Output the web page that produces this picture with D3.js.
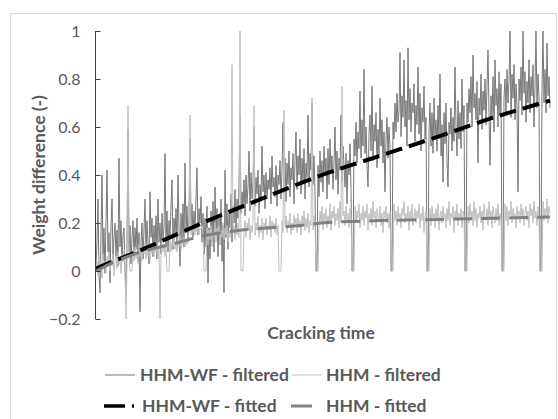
<!DOCTYPE html>
<html>
<head>
<meta charset="utf-8">
<script src="https://cdn.jsdelivr.net/npm/d3@7"></script>
<style>
  body { margin: 0; background: #fff; }
  svg { display: block; }
  .tick text { font-family: Lato, "Open Sans", sans-serif; font-size: 16px; fill: #595959; }
  .ttl { font-family: Lato, "Open Sans", sans-serif; font-weight: bold; fill: #595959; }
</style>
</head>
<body>
<div id="chart"></div>
<script>
// weight difference over cracking time, one sample per step
const hhmWfFiltered = [
  0.02, 0.12, 0.30, -0.02, -0.09, 0.15, 0.40, 0.05, 0.18, -0.01,
  0.20, 0.42, 0.08, 0.16, -0.05, 0.19, 0.30, 0.03, 0.14, 0.20,
  0.06, 0.17, 0.02, 0.47, 0.10, 0.21, 0.04, 0.15, 0.18, 0.00,
  -0.10, 0.12, 0.59, 0.08, 0.19, 0.03, 0.14, 0.21, 0.06, 0.18,
  0.09, 0.22, 0.04, 0.16, -0.17, 0.12, 0.20, 0.05, 0.17, 0.30,
  0.08, 0.21, 0.11, 0.03, 0.33, 0.14, 0.22, 0.06, 0.19, 0.10,
  0.23, 0.05, 0.30, 0.12, 0.20, 0.07, 0.24, 0.13, 0.18, 0.49,
  0.10, 0.25, 0.08, 0.21, 0.14, 0.27, 0.38, 0.09, 0.22, 0.15,
  0.26, 0.11, 0.40, 0.18, 0.02, 0.24, 0.13, 0.28, 0.10, 0.45,
  0.16, 0.27, 0.12, 0.23, 0.55, 0.19, 0.28, 0.14, 0.25, 0.17,
  0.30, 0.43, 0.15, 0.26, 0.20, 0.31, 0.12, 0.24, 0.07, 0.22,
  0.10, 0.27, -0.05, 0.18, 0.05, 0.25, 0.12, 0.29, 0.08, 0.35,
  0.15, 0.26, 0.06, 0.22, 0.11, 0.30, 0.04, 0.19, -0.09, 0.42,
  0.14, 0.28, 0.09, 0.24, 0.18, 0.32, 0.12, 0.27, 0.20, 0.34,
  0.16, 0.30, 0.22, 0.36, 0.65, 0.24, 0.33, 0.26, 0.38, 0.23,
  0.40, 0.28, 0.35, 0.50, 0.25, 0.41, 0.30, 0.37, 0.60, 0.27,
  0.39, 0.32, 0.42, 0.24, 0.36, 0.29, 0.52, 0.33, 0.40, 0.26,
  0.41, 0.30, 0.38, 0.34, 0.43, 0.28, 0.48, 0.35, 0.39, 0.31,
  0.44, 0.27, 0.40, 0.36, 0.46, 0.30, 0.42, 0.62, 0.33, 0.47,
  0.29, 0.45, 0.36, 0.50, 0.31, 0.43, 0.38, 0.49, 0.28, 0.46,
  0.58, 0.34, 0.48, 0.40, 0.55, 0.32, 0.47, 0.37, 0.51, 0.30,
  0.45, 0.39, 0.65, 0.35, 0.49, 0.42, 0.70, 0.36, 0.48, 0.33,
  0.00, 0.00, 0.44, 0.31, 0.50, 0.37, 0.46, 0.33, 0.52, 0.40,
  0.47, 0.30, 0.51, 0.36, 0.55, 0.41, 0.48, 0.34, 0.45, 0.60,
  0.38, 0.50, 0.32, 0.47, 0.42, 0.65, 0.37, 0.52, 0.44, 0.35,
  0.49, 0.28, 0.46, 0.40, 0.53, 0.34, 0.00, 0.00, 0.55, 0.48,
  0.62, 0.45, 0.58, 0.51, 0.75, 0.47, 0.63, 0.52, 0.84, 0.49,
  0.60, 0.44, 0.35, 0.57, 0.65, 0.50, 0.77, 0.46, 0.61, 0.54,
  0.66, 0.43, 0.59, 0.48, 0.72, 0.52, 0.63, 0.45, 0.58, 0.33,
  0.55, 0.64, 0.47, 0.60, 0.52, 0.00, 0.00, 0.62, 0.55, 0.70,
  0.58, 0.74, 0.62, 0.67, 0.91, 0.56, 0.73, 0.64, 0.88, 0.60,
  0.71, 0.52, 0.93, 0.63, 0.76, 0.58, 0.70, 0.66, 0.78, 0.54,
  0.69, 0.61, 0.85, 0.57, 0.74, 0.50, 0.68, 0.62, 0.77, 0.55,
  0.64, 0.00, 0.00, 0.58, 0.70, 0.52, 0.66, 0.49, 0.72, 0.56,
  0.63, 0.50, 0.69, 0.55, 0.82, 0.48, 0.61, 0.37, 0.66, 0.53,
  0.70, 0.45, 0.35, 0.62, 0.57, 0.68, 0.50, 0.64, 0.54, 0.85,
  0.60, 0.48, 0.71, 0.55, 0.66, 0.51, 0.80, 0.58, 0.69, 0.00,
  0.00, 0.70, 0.62, 0.76, 0.66, 0.81, 0.60, 0.90, 0.68, 0.74,
  0.63, 0.79, 0.45, 0.72, 0.65, 0.82, 0.59, 0.75, 0.67, 0.80,
  0.61, 0.77, 0.92, 0.66, 0.44, 0.73, 0.64, 0.81, 0.58, 0.88,
  0.69, 0.76, 0.60, 0.83, 0.65, 0.78, 0.00, 0.00, 0.72, 0.80,
  0.66, 0.84, 0.70, 0.79, 1.00, 0.64, 0.82, 0.72, 0.86, 0.63,
  0.78, 0.69, 0.33, 0.80, 0.71, 0.85, 0.65, 1.00, 0.74, 0.83,
  0.62, 0.79, 0.70, 0.88, 0.66, 0.81, 0.73, 0.86, 0.60, 0.77,
  1.00, 0.68, 0.82, 0.72, 0.00, 0.00, 0.75, 1.00, 0.70, 0.84,
  0.66, 0.95, 0.73, 0.81, 0.68
];
const hhmFiltered = [
  0.00, 0.04, -0.02, 0.06, 0.01, 0.05, -0.03, 0.07, 0.02, 0.04,
  -0.01, 0.06, 0.03, 0.08, 0.00, 0.05, 0.02, 0.07, -0.02, 0.04,
  0.06, 0.01, 0.08, 0.03, 0.05, -0.01, 0.07, 0.04, 0.09, 0.02,
  -0.20, 0.05, 0.69, 0.06, 0.00, 0.00, 0.00, 0.09, 0.04, 0.10,
  0.05, 0.08, 0.03, 0.11, 0.06, 0.09, 0.04, 0.10, 0.07, 0.12,
  0.05, 0.09, 0.06, 0.11, 0.04, 0.10, 0.07, 0.12, 0.06, 0.09,
  0.08, 0.11, 0.05, 0.10, -0.20, 0.07, 0.12, 0.08, 0.11, 0.06,
  0.10, 0.00, 0.00, 0.00, 0.13, 0.08, 0.12, 0.10, 0.14, 0.09,
  0.12, 0.08, 0.13, 0.10, 0.15, 0.09, 0.12, 0.11, 0.14, 0.10,
  0.13, 0.11, 0.15, 0.16, 0.65, 0.15, 0.18, 0.16, 0.19, 0.15,
  0.18, 0.16, 0.19, 0.15, 0.18, 0.17, 0.19, 0.16, 0.00, 0.00,
  0.00, 0.18, 0.11, 0.17, 0.13, 0.19, 0.10, 0.16, 0.14, 0.20,
  0.12, 0.18, 0.15, 0.19, 0.11, 0.17, 0.14, 0.20, 0.13, 0.18,
  0.15, 0.19, 0.12, 0.17, 0.14, 0.21, 0.86, 0.16, 0.19, 0.13,
  0.18, 0.15, 0.20, 0.14, 1.00, 0.00, 0.00, 0.00, 0.16, 0.21,
  0.14, 0.20, 0.17, 0.22, 0.13, 0.19, 0.16, 0.21, 0.69, 0.15,
  0.20, 0.17, 0.23, 0.14, 0.19, 0.16, 0.22, 0.13, 0.20, 0.18,
  0.22, 0.15, 0.19, 0.17, 0.23, 0.14, 0.21, 0.18, 0.20, 0.16,
  0.22, 0.15, 0.19, 0.00, 0.00, 0.00, 0.21, 0.16, 0.67, 0.19,
  0.23, 0.16, 0.21, 0.18, 0.24, 0.15, 0.20, 0.17, 0.23, 0.19,
  0.22, 0.16, 0.24, 0.18, 0.21, 0.15, 0.23, 0.19, 0.25, 0.17,
  0.22, 0.18, 0.24, 0.16, 0.21, 0.19, 0.72, 0.17, 0.23, 0.20,
  0.00, 0.00, 0.00, 0.18, 0.25, 0.20, 0.27, 0.17, 0.24, 0.21,
  0.26, 0.18, 0.23, 0.20, 0.28, 0.17, 0.25, 0.22, 0.27, 0.19,
  0.24, 0.21, 0.26, 0.18, 0.29, 0.20, 0.77, 0.23, 0.25, 0.19,
  0.27, 0.21, 0.24, 0.18, 0.26, 0.22, 0.00, 0.00, 0.00, 0.27,
  0.20, 0.25, 0.22, 0.28, 0.18, 0.24, 0.21, 0.27, 0.19, 0.25,
  0.22, 0.28, 0.17, 0.24, 0.21, 0.26, 0.19, 0.29, 0.22, 0.25,
  0.18, 0.26, 0.23, 0.21, 0.27, 0.19, 0.24, 0.16, 0.25, 0.22,
  0.27, 0.20, 0.24, 0.18, 0.25, 0.00, 0.00, 0.00, 0.28, 0.21,
  0.25, 0.19, 0.27, 0.22, 0.24, 0.18, 0.26, 0.23, 0.29, 0.20,
  0.24, 0.21, 0.27, 0.17, 0.25, 0.22, 0.28, 0.19, 0.23, 0.26,
  0.20, 0.25, 0.22, 0.28, 0.18, 0.24, 0.21, 0.27, 0.16, 0.23,
  0.25, 0.00, 0.00, 0.00, 0.26, 0.19, 0.27, 0.22, 0.24, 0.18,
  0.26, 0.21, 0.28, 0.17, 0.23, 0.25, 0.20, 0.27, 0.22, 0.24,
  0.18, 0.26, 0.21, 0.29, 0.19, 0.24, 0.22, 0.27, 0.16, 0.25,
  0.21, 0.28, 0.19, 0.24, 0.22, 0.26, 0.18, 0.25, 0.23, 0.00,
  0.00, 0.00, 0.27, 0.20, 0.28, 0.22, 0.25, 0.19, 0.29, 0.21,
  0.26, 0.18, 0.24, 0.22, 0.27, 0.20, 0.25, 0.17, 0.28, 0.23,
  0.21, 0.26, 0.19, 0.29, 0.22, 0.25, 0.18, 0.27, 0.23, 0.20,
  0.26, 0.21, 0.28, 0.19, 0.24, 0.22, 0.00, 0.00, 0.00, 0.28,
  0.21, 0.27, 0.19, 0.25, 0.23, 0.29, 0.20, 0.26, 0.22, 0.24,
  0.18, 0.27, 0.23, 0.25, 0.20, 0.28, 0.22, 0.26, 0.19, 0.24,
  0.27, 0.21, 0.25, 0.18, 0.28, 0.23, 0.26, 0.20, 0.29, 0.22,
  0.25, 0.19, 0.27, 0.22, 0.00, 0.00, 0.00, 0.29, 0.21, 0.26,
  0.23, 0.30, 0.20, 0.27, 0.24
];

// fitted curves, read at a few sample indices
const fitIndex    = [0, 14, 38, 74, 112, 144, 174, 204, 226, 284, 342, 398, 454];
const hhmWfFitted = [0.01, 0.035, 0.075, 0.14, 0.21, 0.265, 0.315, 0.365, 0.40, 0.48, 0.56, 0.64, 0.71];
const hhmFitted   = [0.00, 0.03, 0.07, 0.11, 0.15, 0.17, 0.18, 0.19, 0.20, 0.21, 0.215, 0.22, 0.225];

const yTicks = [-0.2, 0, 0.2, 0.4, 0.6, 0.8, 1];
const legendItems = [
  { name: 'HHM-WF - filtered', color: '#787878', width: 1, dash: null },
  { name: 'HHM - filtered', color: '#bfbfbf', width: 1, dash: null },
  { name: 'HHM-WF - fitted', color: '#000', width: 3.5, dash: '21,7' },
  { name: 'HHM - fitted', color: '#808080', width: 3, dash: '21,9' }
];

const W = 558, H = 419;
const svg = d3.select('#chart').append('svg').attr('width', W).attr('height', H);

// chart border
svg.append('rect')
  .attr('x', 10.5).attr('y', 13.5).attr('width', 546).attr('height', 410)
  .attr('fill', 'none').attr('stroke', '#d9d9d9');

const x = d3.scaleLinear().domain([0, hhmFiltered.length - 1]).range([96, 550]);
const y = d3.scaleLinear().domain([-0.2, 1]).range([319, 31]);

const line = d3.line().x((d, i) => x(i)).y(d => y(d));
const fitLine = d3.line().x(d => x(d[0])).y(d => y(d[1])).curve(d3.curveMonotoneX);

const plot = svg.append('g');

plot.append('path').datum(hhmWfFiltered)
  .attr('d', line).attr('fill', 'none')
  .attr('stroke', '#787878').attr('stroke-width', 1);

plot.append('path').datum(hhmFiltered)
  .attr('d', line).attr('fill', 'none')
  .attr('stroke', '#bfbfbf').attr('stroke-width', 1);

plot.append('path').datum(d3.zip(fitIndex, hhmWfFitted))
  .attr('d', fitLine).attr('fill', 'none')
  .attr('stroke', '#000').attr('stroke-width', 4)
  .attr('stroke-dasharray', '17,7');

plot.append('path').datum(d3.zip(fitIndex, hhmFitted))
  .attr('d', fitLine).attr('fill', 'none')
  .attr('stroke', '#808080').attr('stroke-width', 3)
  .attr('stroke-dasharray', '19,9');

// y axis, ticks pointing into the plot
const yAxis = d3.axisLeft(y).tickValues(yTicks)
  .tickFormat(d => d3.format('~g')(d))
  .tickSizeInner(-5).tickSizeOuter(0).tickPadding(15);

const ag = svg.append('g').attr('transform', 'translate(95.5,0)').call(yAxis);
ag.selectAll('path, line').attr('stroke', '#404040');
ag.select('.domain').attr('d', `M0,${y(-0.2)}V${y(1)}`);

// axis titles
svg.append('text').attr('class', 'ttl')
  .attr('x', 321).attr('y', 339).attr('text-anchor', 'middle')
  .attr('font-size', 17.5).text('Cracking time');

svg.append('text').attr('class', 'ttl')
  .attr('transform', 'translate(45,175) rotate(-90)')
  .attr('text-anchor', 'middle').attr('font-size', 17.5)
  .text('Weight difference (-)');

// legend, two rows by two columns
const lg = svg.append('g');
const slots = [[105, 375, 35], [292, 375, 34], [104, 406, 38], [291, 406, 35]];
legendItems.forEach((d, i) => {
  const [lx, ly, tx] = slots[i];
  const g = lg.append('g').attr('transform', `translate(${lx},${ly})`);
  g.append('line')
    .attr('x1', 0).attr('x2', 30).attr('y1', 0).attr('y2', 0)
    .attr('stroke', d.color).attr('stroke-width', d.width)
    .attr('stroke-dasharray', d.dash);
  g.append('text').attr('class', 'ttl')
    .attr('x', tx).attr('y', 6).attr('font-size', 17.5)
    .text(d.name);
});
</script>
</body>
</html>
